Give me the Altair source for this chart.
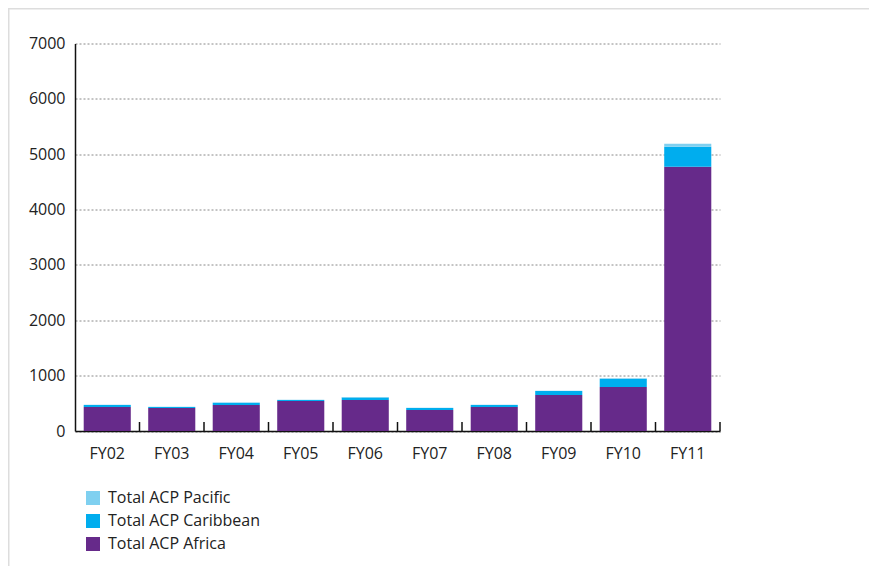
import altair as alt
import pandas as pd

years = ["FY02", "FY03", "FY04", "FY05", "FY06", "FY07", "FY08", "FY09", "FY10", "FY11"]
africa = [434, 416, 470, 542, 560, 380, 434, 651, 796, 4774]
caribbean = [36, 18, 42, 16, 45, 36, 36, 72, 150, 362]
pacific = [6, 2, 4, 6, 8, 6, 6, 6, 8, 54]

series_names = ["Total ACP Pacific", "Total ACP Caribbean", "Total ACP Africa"]
series_colors = ["#7fd0f0", "#00adee", "#662a8a"]
y_ticks = [0, 1000, 2000, 3000, 4000, 5000, 6000, 7000]

rows = []
for i, yr in enumerate(years):
    rows.append({"year": yr, "series": "Total ACP Africa", "value": africa[i], "ord": 0})
    rows.append({"year": yr, "series": "Total ACP Caribbean", "value": caribbean[i], "ord": 1})
    rows.append({"year": yr, "series": "Total ACP Pacific", "value": pacific[i], "ord": 2})
df = pd.DataFrame(rows)
df_years = pd.DataFrame({"year": years})

W, H = 645, 387.5
PL, PT, PR, PB = 67, 35.5, 149, 135
FONT = "Open Sans"

xscale = alt.Scale(domain=years, paddingInner=0, paddingOuter=0)

bars = alt.Chart(df).mark_bar(width=alt.RelativeBandSize(0.73)).encode(
    x=alt.X("year:N", scale=xscale, sort=years,
            axis=alt.Axis(title=None, labelAngle=0, ticks=False, domain=True,
                          domainColor="#111111", domainWidth=1.5,
                          labelPadding=14, labelFontSize=16, labelColor="#222222",
                          labelFont=FONT)),
    y=alt.Y("value:Q", stack="zero",
            scale=alt.Scale(domain=[0, 7000], nice=False),
            axis=alt.Axis(title=None, values=y_ticks, format="d", ticks=False, domain=True,
                          domainColor="#111111", domainWidth=1.5,
                          grid=True, gridColor="#888888", gridDash=[2, 2], gridWidth=1,
                          labelPadding=10, labelFontSize=16, labelColor="#222222",
                          labelFont=FONT)),
    color=alt.Color("series:N",
                    scale=alt.Scale(domain=series_names, range=series_colors),
                    legend=alt.Legend(title=None, orient="none", legendX=10, legendY=446.5,
                                      symbolType="square", symbolSize=196,
                                      symbolStrokeWidth=0, labelFontSize=16,
                                      labelColor="#222222", labelFont=FONT,
                                      rowPadding=7, labelOffset=7, padding=0)),
    order=alt.Order("ord:Q", sort="ascending"),
)

ticks = alt.Chart(df_years).mark_rule(color="#111111", strokeWidth=1.5).encode(
    x=alt.X("year:N", scale=xscale, sort=years, bandPosition=1),
    y=alt.value(H - 9),
    y2=alt.value(H),
)

# light gray page frame (decoration)
frame_left = alt.Chart(df_years.head(1)).mark_rule(color="#dddddd", strokeWidth=2).encode(
    x=alt.value(-PL + 0.5), y=alt.value(-PT), y2=alt.value(H + PB),
)
frame_top = alt.Chart(df_years.head(1)).mark_rule(color="#dddddd", strokeWidth=2).encode(
    y=alt.value(-PT + 0.5), x=alt.value(-PL), x2=alt.value(W + PR),
)

chart = alt.layer(frame_left, frame_top, bars, ticks).properties(
    width=W, height=H,
    autosize=alt.AutoSizeParams(type="none"),
    padding={"left": PL, "top": PT, "right": PR, "bottom": PB},
    background="white",
).configure_view(stroke=None)

chart.save("out.html", embed_options={"renderer": "svg", "actions": False})
